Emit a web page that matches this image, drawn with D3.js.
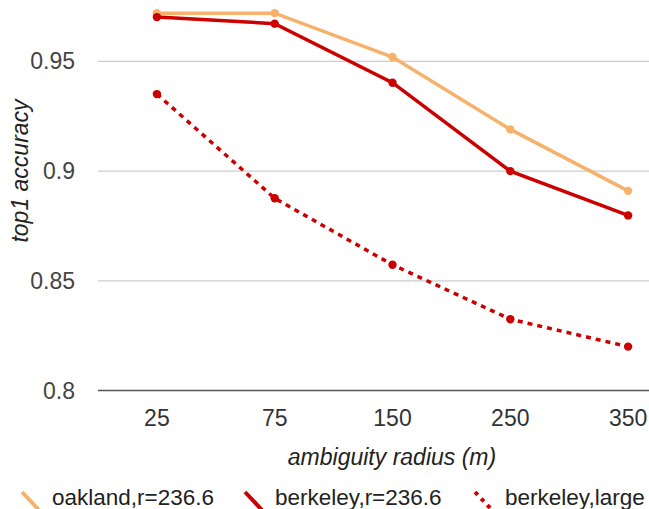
<!DOCTYPE html>
<html>
<head>
<meta charset="utf-8">
<script src="https://cdn.jsdelivr.net/npm/d3@7"></script>
<style>
  body { margin: 0; background: #fff; }
  svg text { font-family: "Liberation Sans", Arial, sans-serif; }
  .axis-title { font-style: italic; fill: #222; }
</style>
</head>
<body>
<div id="chart"></div>
<script>
// chart data
const radii = ['25', '75', '150', '250', '350'];
const oakland = [0.972, 0.972, 0.952, 0.919, 0.891];
const berkeley = [0.9702, 0.9672, 0.9403, 0.9, 0.8798];
const berkeleyLarge = [0.9351, 0.8876, 0.8573, 0.8325, 0.82];
const yTicks = [0.8, 0.85, 0.9, 0.95];
const seriesNames = ['oakland,r=236.6', 'berkeley,r=236.6', 'berkeley,large'];

const series = [
  {name: seriesNames[0], values: oakland, color: '#f6b26b', dash: null},
  {name: seriesNames[1], values: berkeley, color: '#cc0000', dash: null},
  {name: seriesNames[2], values: berkeleyLarge, color: '#cc0000', dash: '5,5'}
];

const width = 649, height = 509;

const svg = d3.select('#chart').append('svg')
    .attr('width', width)
    .attr('height', height);

// plot runs off the right edge in the original
const xScale = d3.scalePoint()
    .domain(radii)
    .range([98, 687])
    .padding(0.5);

const yScale = d3.scaleLinear()
    .domain([0.8, 0.95])
    .range([390.5, 61.4]);

// gridlines
svg.append('g')
  .selectAll('line')
  .data(yTicks)
  .join('line')
    .attr('x1', 98)
    .attr('x2', width)
    .attr('y1', d => yScale(d))
    .attr('y2', d => yScale(d))
    .attr('stroke', d => d === 0.8 ? '#555' : '#ccc')
    .attr('stroke-width', d => d === 0.8 ? 1.6 : 1.3);

// y tick labels
svg.append('g')
  .selectAll('text')
  .data(yTicks)
  .join('text')
    .attr('x', 75)
    .attr('y', d => yScale(d))
    .attr('dy', '0.35em')
    .attr('text-anchor', 'end')
    .attr('fill', '#444')
    .style('font-size', '23px')
    .text(d => d3.format('')(d));

// x tick labels
svg.append('g')
  .selectAll('text')
  .data(radii)
  .join('text')
    .attr('x', d => xScale(d))
    .attr('y', 425.5)
    .attr('text-anchor', 'middle')
    .attr('fill', '#333')
    .style('font-size', '23px')
    .text(d => d);

// axis titles
svg.append('text')
    .attr('class', 'axis-title')
    .attr('x', 392)
    .attr('y', 465)
    .attr('text-anchor', 'middle')
    .style('font-size', '23px')
    .text('ambiguity radius (m)');

svg.append('text')
    .attr('class', 'axis-title')
    .attr('transform', 'translate(28,171) rotate(-90)')
    .attr('text-anchor', 'middle')
    .style('font-size', '23px')
    .text('top1 accuracy');

// lines + points
const line = d3.line()
    .x((d, i) => xScale(radii[i]))
    .y(d => yScale(d));

const g = svg.append('g');

series.forEach(s => {
  g.append('path')
      .datum(s.values)
      .attr('fill', 'none')
      .attr('stroke', s.color)
      .attr('stroke-width', 3.5)
      .attr('stroke-dasharray', s.dash)
      .attr('d', line);

  g.selectAll(null)
    .data(s.values)
    .join('circle')
      .attr('cx', (d, i) => xScale(radii[i]))
      .attr('cy', d => yScale(d))
      .attr('r', 4.2)
      .attr('fill', s.color);
});

// legend
const legendX = [22, 245, 475];
const legend = svg.append('g')
  .selectAll('g')
  .data(series)
  .join('g')
    .attr('transform', (d, i) => `translate(${legendX[i]},0)`);

legend.append('line')
    .attr('x1', 0)
    .attr('y1', 492)
    .attr('x2', 17)
    .attr('y2', 510)
    .attr('stroke', d => d.color)
    .attr('stroke-width', 4)
    .attr('stroke-dasharray', d => d.dash ? '4,5' : null);

legend.append('text')
    .attr('x', 30)
    .attr('y', 505)
    .attr('fill', '#222')
    .style('font-size', '22.5px')
    .text(d => d.name);
</script>
</body>
</html>
